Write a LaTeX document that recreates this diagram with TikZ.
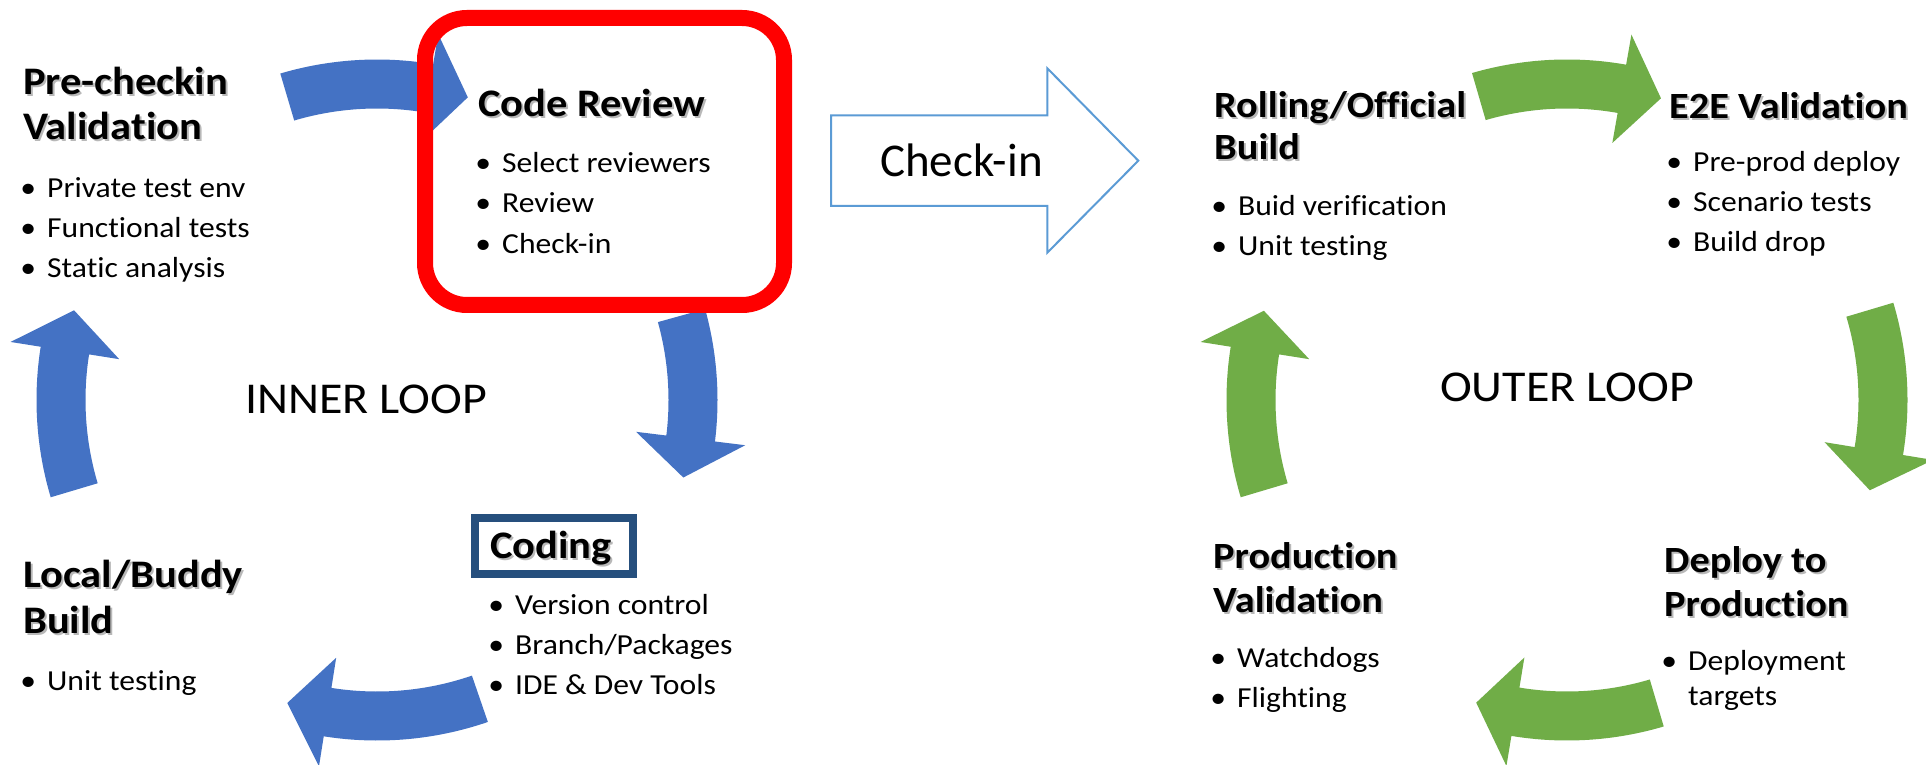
\documentclass[tikz,border=0pt]{standalone}
\usepackage{fontspec}
\setmainfont{Carlito}[Ligatures=NoCommon]
\newfontfamily\wide{Carlito}[FakeStretch=1.09,Ligatures=NoCommon]
\usetikzlibrary{calc}
\definecolor{cblue}{RGB}{68,114,196}
\definecolor{cgreen}{RGB}{112,173,71}
\definecolor{cred}{RGB}{255,0,0}
\definecolor{clight}{RGB}{91,155,213}
\definecolor{cnavy}{RGB}{38,79,125}
% curved cycle arrow: center, start angle, head-base angle, tip angle, colour
\newcommand{\cyc}[5]{%
  \fill[#5] ($(#1)+(#2:340.5)$) arc[start angle=#2, end angle=#3, radius=340.5]
    -- ($(#1)+(#3:371)$) -- ($(#1)+(#4:316)$) -- ($(#1)+(#3:261)$) -- ($(#1)+(#3:291.5)$)
    arc[start angle=#3, end angle=#2, radius=291.5] -- cycle;}
\newcommand{\bul}{\llap{•\hspace{11pt}}}
\newcommand{\ttl}[4]{%
  \node[ttshadow] (#1s) at (#2+2,#3-2) {#4};
  \node[ttitle] (#1) at (#2,#3) {#4};}
\newcommand{\ttr}[4]{%
  \node[ttshadow, ttsmall] (#1s) at (#2+2,#3-2) {#4};
  \node[ttitle, ttsmall] (#1) at (#2,#3) {#4};}
\tikzset{
  btext/.style={anchor=base west, inner sep=0, font=\wide\fontsize{29}{34}\selectfont},
  ttitle/.style={anchor=base west, inner sep=0, font=\wide\bfseries\fontsize{39}{45}\selectfont},
  ttsmall/.style={font=\wide\bfseries\fontsize{37}{45}\selectfont},
  ttshadow/.style={ttitle, text=black!28},
  looptext/.style={anchor=base, inner sep=0, font=\wide\fontsize{44}{50}\selectfont},
}
\begin{document}
\begin{tikzpicture}[x=1pt,y=1pt]
\fill[white] (0,0) rectangle (1926,764);
\useasboundingbox (0,0) rectangle (1926,764);
\coordinate (ic) at (377,364);
\coordinate (oc) at (1567,364);
% inner loop arrows
\cyc{ic}{106.5}{80.5}{73.3}{cblue}
\cyc{ic}{15.5}{-7}{-14.2}{cblue}
\cyc{ic}{-71}{-99}{-106.5}{cblue}
\cyc{ic}{196.6}{171}{163.5}{cblue}
% outer loop arrows
\cyc{oc}{106.2}{80}{72.7}{cgreen}
\cyc{oc}{16.6}{-9.3}{-16.6}{cgreen}
\cyc{oc}{-73.5}{-99.4}{-106.7}{cgreen}
\cyc{oc}{196.6}{171}{163.6}{cgreen}
% code review frame
\draw[cred, line width=16, rounded corners=42] (425,459) rectangle (784,746);
% coding frame
\draw[cnavy, line width=8] (475,190) rectangle (633,246.5);
% check-in arrow
\draw[clight, line width=2, fill=white] (831,648.7) -- (1047.3,648.7) -- (1047.3,695.7)
  -- (1138.3,603.3) -- (1047.3,511.3) -- (1047.3,558) -- (831,558) -- cycle;
\node[anchor=base west, inner sep=0, font=\fontsize{47}{56}\selectfont] (checkin) at (880,587.3) {Check-in};
% inner loop texts
\node[looptext] (inner) at (366,351) {INNER LOOP};
\ttl{pre1}{23}{669}{Pre-checkin}
\ttl{pre2}{23}{624}{Validation}
\node[btext] (pb1) at (47,566) {\bul Private test env};
\node[btext] (pb2) at (47,526) {\bul Functional tests};
\node[btext] (pb3) at (47,486) {\bul Static analysis};
\ttl{cr}{478}{647}{Code Review}
\node[btext] (cb1) at (502,591) {\bul Select reviewers};
\node[btext] (cb2) at (502,551) {\bul Review};
\node[btext] (cb3) at (502,510) {\bul Check-in};
\ttl{cod}{490}{206}{Coding}
\node[btext] (db1) at (515,150) {\bul Version control};
\node[btext] (db2) at (515,110) {\bul Branch/Packages};
\node[btext] (db3) at (515,70) {\bul IDE \& Dev Tools};
\ttl{lb1}{23}{177}{Local/Buddy}
\ttl{lb2}{23}{131}{Build}
\node[btext] (lbb1) at (47,74) {\bul Unit testing};
% outer loop texts
\node[looptext] (outer) at (1567,363) {OUTER LOOP};
\ttr{ro1}{1214}{646}{Rolling/Official}
\ttr{ro2}{1214}{604}{Build}
\node[btext] (rb1) at (1238,548) {\bul Buid verification};
\node[btext] (rb2) at (1238,508) {\bul Unit testing};
\ttr{ee}{1669}{645}{E2E Validation}
\node[btext] (eb1) at (1693,592) {\bul Pre-prod deploy};
\node[btext] (eb2) at (1693,552) {\bul Scenario tests};
\node[btext] (eb3) at (1693,512) {\bul Build drop};
\ttr{pv1}{1213}{196}{Production}
\ttr{pv2}{1213}{152}{Validation}
\node[btext] (vb1) at (1237,97) {\bul Watchdogs};
\node[btext] (vb2) at (1237,57) {\bul Flighting};
\ttr{dp1}{1664}{192}{Deploy to}
\ttr{dp2}{1664}{148}{Production}
\node[btext] (dpb1) at (1688,94) {\bul Deployment};
\node[btext] (dpb2) at (1688,59) {targets};
\end{tikzpicture}
\end{document}
